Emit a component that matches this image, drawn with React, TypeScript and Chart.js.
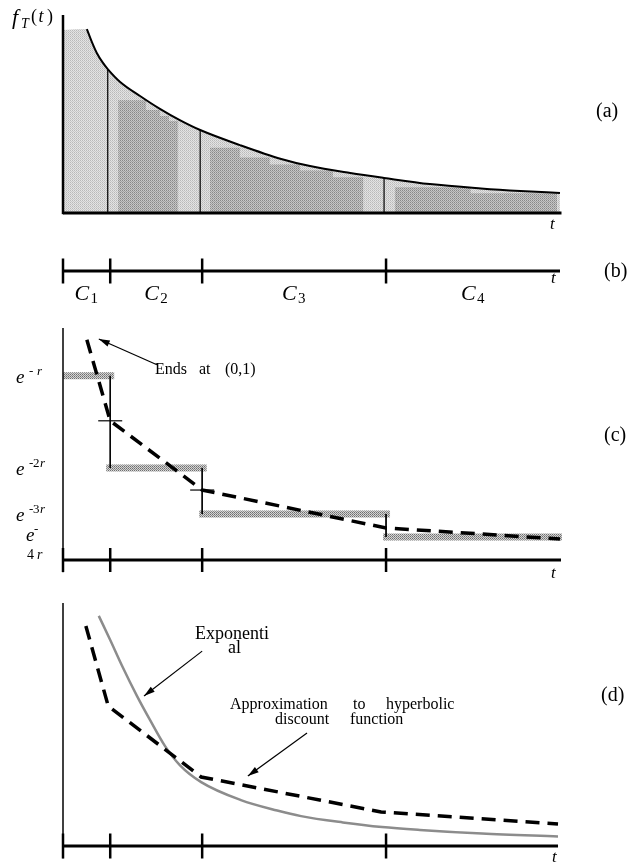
import React, { useEffect, useRef } from 'react';
import { Chart, registerables } from 'chart.js';

Chart.register(...registerables);

const W = 629;
const H = 864;
const SERIF = '"Liberation Serif", "Times New Roman", "DejaVu Serif", serif';

// ---------- shared time axis ----------
const T_MAX = 100;
const boundaryT = [0, 9.5, 28, 65]; // tick marks: starts of C1..C4
const intervalEndT = [9.5, 28, 65, 100];
const intervalNames = ['1', '2', '3', '4'];

// ---------- panel (a): density f_T(t) ----------
const densityT = [4.8, 5.8, 6.8, 7.9, 9.0, 11.5, 15.5, 19.5, 23.5, 27.6, 35.6, 43.9, 49.7, 57.8, 64.6, 73.8, 84.1, 92.0, 100];
const densityV = [92.9, 86.4, 80.8, 76.3, 72.7, 66.2, 59.1, 52.6, 46.9, 41.9, 34.3, 27.3, 23.7, 20.2, 17.7, 14.6, 12.4, 11.1, 10.1];
const shadeLeftTop = 92.4;
const dividerT = [9.0, 27.6, 64.6];
const dividerTop = [72.7, 41.9, 17.7];
const darkStepT = [11.1, 16.7, 19.5, 21.3, 23.1, 29.6, 35.6, 41.6, 47.7, 54.3, 60.4, 66.8, 82.0, 99.4];
const darkStepV = [57, 52, 49, 46.5, 0, 33, 28, 24.5, 21.5, 18, 0, 13, 10, 0];

// ---------- panel (c): step approximation ----------
const stepLevel = [0.5, 0.25, 0.125, 0.0625];
const stepStartT = [0, 8.7, 27.4, 64.4];
const stepEndT = [10.3, 28.9, 65.8, 100.4];
const stepSup = ['- r', '-2r', '-3r', '-'];
const approxT = [4.8, 9.5, 28.0, 65.0, 100];
const approxV = [0.598, 0.378, 0.19, 0.087, 0.057];
const crossT = [9.5, 28];
const crossV = [0.378, 0.19];
const endsArrowT = [18.9, 7.2];
const endsArrowV = [0.53, 0.6];

// ---------- panel (d): exponential vs hyperbolic approximation ----------
const expT = [7.2, 9.5, 11.9, 14.9, 17.5, 20.5, 23.5, 27.8, 35.8, 43.1, 47.9, 56.3, 64.2, 71.8, 84.3, 99.6];
const expV = [0.947, 0.848, 0.741, 0.617, 0.519, 0.412, 0.333, 0.263, 0.189, 0.146, 0.123, 0.097, 0.078, 0.066, 0.051, 0.039];
const hypT = [4.6, 9.1, 27.8, 64.0, 99.6];
const hypV = [0.905, 0.576, 0.284, 0.14, 0.091];
const expArrowT = [28.0, 16.3];
const expArrowV = [0.802, 0.617];
const hypArrowT = [49.1, 37.2];
const hypArrowV = [0.465, 0.288];

// ---------- helpers ----------
const it = (s: number) => `italic ${s}px ${SERIF}`;
const up = (s: number) => `${s}px ${SERIF}`;
const pts = (xs: number[], ys: number[]) => xs.map((x, i) => ({ x, y: ys[i] }));
const seg = (x1: number, y1: number, x2: number, y2: number) => [
  { x: x1, y: y1 },
  { x: x2, y: y2 },
];

const line = (data: any[], o: any = {}) => ({
  data,
  showLine: true,
  pointRadius: 0,
  borderColor: '#000',
  borderWidth: 1,
  fill: false,
  clip: false,
  order: 2,
  ...o,
});

const marks = (data: any[], o: any = {}) => ({
  data,
  showLine: false,
  pointStyle: 'line',
  pointRotation: 90,
  pointRadius: 12.5,
  pointBorderWidth: 2.5,
  pointBorderColor: '#000',
  pointBackgroundColor: '#000',
  clip: false,
  order: 0,
  ...o,
});

function makePattern(ctx: CanvasRenderingContext2D, c: string[]) {
  const cv = document.createElement('canvas');
  cv.width = 2;
  cv.height = 2;
  const g = cv.getContext('2d')!;
  g.fillStyle = c[0];
  g.fillRect(0, 0, 1, 1);
  g.fillStyle = c[1];
  g.fillRect(1, 0, 1, 1);
  g.fillStyle = c[2];
  g.fillRect(0, 1, 1, 1);
  g.fillStyle = c[3];
  g.fillRect(1, 1, 1, 1);
  return ctx.createPattern(cv, 'repeat')!;
}

type TextItem = [string, string, number, number];

function drawItems(ctx: CanvasRenderingContext2D, items: TextItem[]) {
  items.forEach(([s, f, x, y]) => {
    ctx.font = f;
    ctx.fillText(s, x, y);
  });
}

const decor = (drawTexts: (ctx: CanvasRenderingContext2D, chart: any) => void) => ({
  id: 'decor',
  afterDatasetsDraw(chart: any) {
    const ctx: CanvasRenderingContext2D = chart.ctx;
    ctx.save();
    ctx.fillStyle = '#000';
    chart.data.datasets.forEach((ds: any, i: number) => {
      if (!ds.arrow) return;
      const els = chart.getDatasetMeta(i).data;
      const a = els[0];
      const b = els[els.length - 1];
      const ang = Math.atan2(b.y - a.y, b.x - a.x);
      const L = 11;
      const w = 3.2;
      const bx = b.x - L * Math.cos(ang);
      const by = b.y - L * Math.sin(ang);
      ctx.beginPath();
      ctx.moveTo(b.x, b.y);
      ctx.lineTo(bx + w * Math.sin(ang), by - w * Math.cos(ang));
      ctx.lineTo(bx - w * Math.sin(ang), by + w * Math.cos(ang));
      ctx.closePath();
      ctx.fill();
    });
    ctx.textBaseline = 'alphabetic';
    ctx.textAlign = 'left';
    drawTexts(ctx, chart);
    ctx.restore();
  },
});

function baseConfig(datasets: any[], top: number, bottom: number, yMin: number, yMax: number, plugin: any) {
  return {
    type: 'scatter' as const,
    data: { datasets },
    options: {
      responsive: false,
      maintainAspectRatio: false,
      animation: false as const,
      events: [] as any[],
      layout: { padding: { left: 63, right: W - 560, top, bottom: H - bottom } },
      scales: {
        x: { type: 'linear' as const, min: 0, max: T_MAX, display: false },
        y: { type: 'linear' as const, min: yMin, max: yMax, display: false },
      },
      plugins: { legend: { display: false }, tooltip: { enabled: false } },
    },
    plugins: [plugin],
  };
}

// ---------- panel builders ----------
function panelA(ctx: CanvasRenderingContext2D) {
  const light = makePattern(ctx, ['#b9b9b9', '#e6e6e6', '#e0e0e0', '#c8c8c8']);
  const dark = makePattern(ctx, ['#888888', '#c9c9c9', '#c2c2c2', '#a0a0a0']);
  const curve = pts(densityT, densityV);
  const datasets: any[] = [
    line(seg(0, 0, 100.3, 0), { borderWidth: 3, order: 0 }),
    line(seg(0, -0.6, 0, 100), { borderWidth: 2.5, order: 0 }),
    line(curve, { borderWidth: 2, cubicInterpolationMode: 'monotone', order: 1 }),
    ...dividerT.map((t, i) => line(seg(t, 0, t, dividerTop[i]), { borderWidth: 1.2, order: 1 })),
    line(pts(darkStepT, darkStepV), {
      stepped: 'before',
      borderWidth: 0,
      fill: 'origin',
      backgroundColor: dark,
      order: 9,
    }),
    line([{ x: 0, y: shadeLeftTop }, ...curve], {
      borderWidth: 0,
      fill: 'origin',
      backgroundColor: light,
      cubicInterpolationMode: 'monotone',
      order: 10,
    }),
  ];
  const plugin = decor((c) => {
    drawItems(c, [
      ['f', it(22), 12, 24],
      ['T', it(14), 21, 28],
      ['(', up(18), 31, 22],
      ['t', it(18), 38.5, 22],
      [')', up(18), 47, 22],
      ['t', it(17), 550, 229],
      ['(a)', up(20), 596, 117],
    ]);
  });
  return baseConfig(datasets, 15, 213, 0, 100, plugin);
}

function panelB() {
  const datasets: any[] = [
    line(seg(0, 0, 100, 0), { borderWidth: 3 }),
    marks(boundaryT.map((t) => ({ x: t, y: 0 }))),
  ];
  const plugin = decor((c, chart) => {
    const xs = chart.scales.x;
    intervalNames.forEach((n, i) => {
      const mid = xs.getPixelForValue((boundaryT[i] + intervalEndT[i]) / 2);
      drawItems(c, [
        ['C', it(22), mid - 12, 300],
        [n, up(15), mid + 4, 303],
      ]);
    });
    drawItems(c, [
      ['t', it(17), 551, 283],
      ['(b)', up(20), 604, 277],
    ]);
  });
  return baseConfig(datasets, 258, 284, -1, 1, plugin);
}

function panelC(ctx: CanvasRenderingContext2D) {
  const bar = makePattern(ctx, ['#6e6e6e', '#d8d8d8', '#d0d0d0', '#8c8c8c']);
  const datasets: any[] = [
    line(seg(0, 0, 100.2, 0), { borderWidth: 3, order: 0 }),
    line(seg(0, -0.033, 0, 0.63), { borderWidth: 1.5, order: 0 }),
    marks(boundaryT.map((t) => ({ x: t, y: 0 })), { pointRadius: 12 }),
    ...stepLevel.map((v, i) =>
      line(seg(stepStartT[i], v, stepEndT[i], v), { borderWidth: 7, borderColor: bar, order: 5 })
    ),
    ...stepLevel.slice(1).map((v, i) =>
      line(seg(boundaryT[i + 1], stepLevel[i], boundaryT[i + 1], v), { borderWidth: 1, order: 3 })
    ),
    marks(pts(crossT, crossV), { pointRotation: 0, pointRadius: 12, pointBorderWidth: 1.2 }),
    line(pts(approxT, approxV), {
      borderWidth: 3.5,
      borderDash: [14, 8],
      borderCapStyle: 'butt',
      order: 1,
    }),
    line(pts(endsArrowT, endsArrowV), { borderWidth: 1.2, arrow: true, order: 1 }),
  ];
  const plugin = decor((c, chart) => {
    const ys = chart.scales.y;
    stepLevel.forEach((v, i) => {
      const y = ys.getPixelForValue(v);
      if (i < 3) {
        const sup = stepSup[i];
        const items: TextItem[] = [['e', it(19), 16, y + 7], ['-', up(13), 29, y - 1]];
        if (sup.length === 3 && sup[1] === ' ') {
          items.push(['r', it(13), 37, y - 1]);
        } else {
          items.push([sup[1], up(13), 33, y - 1]);
          items.push([sup[2], it(13), 40, y - 1]);
        }
        drawItems(c, items);
      } else {
        drawItems(c, [
          ['e', it(19), 26, y + 4],
          [stepSup[i], up(13), 34, y - 4],
          ['4', up(14), 27, y + 22],
          ['r', it(14), 37, y + 22],
        ]);
      }
    });
    drawItems(c, [
      ['Ends', up(16), 155, 374],
      ['at', up(16), 199, 374],
      ['(0,1)', up(16), 225, 374],
      ['t', it(17), 551, 578],
      ['(c)', up(20), 604, 441],
    ]);
  });
  return baseConfig(datasets, 328, 560, 0, 0.63, plugin);
}

function panelD() {
  const datasets: any[] = [
    line(seg(0, 0, 99.6, 0), { borderWidth: 3, order: 0 }),
    line(seg(0, -0.05, 0, 1), { borderWidth: 1.5, order: 0 }),
    marks(boundaryT.map((t) => ({ x: t, y: 0 }))),
    line(pts(expT, expV), {
      borderWidth: 2.5,
      borderColor: '#8c8c8c',
      cubicInterpolationMode: 'monotone',
      order: 2,
    }),
    line(pts(hypT, hypV), {
      borderWidth: 3.5,
      borderDash: [14, 8],
      borderCapStyle: 'butt',
      order: 1,
    }),
    line(pts(expArrowT, expArrowV), { borderWidth: 1.2, arrow: true, order: 1 }),
    line(pts(hypArrowT, hypArrowV), { borderWidth: 1.2, arrow: true, order: 1 }),
  ];
  const plugin = decor((c) => {
    drawItems(c, [
      ['Exponenti', up(18), 195, 639],
      ['al', up(18), 228, 653],
      ['Approximation', up(16), 230, 709],
      ['to', up(16), 353, 709],
      ['hyperbolic', up(16), 386, 709],
      ['discount', up(16), 275, 724],
      ['function', up(16), 350, 724],
      ['t', it(17), 552, 862],
      ['(d)', up(20), 601, 701],
    ]);
  });
  return baseConfig(datasets, 603, 846, 0, 1, plugin);
}

export default function App() {
  const r1 = useRef<HTMLCanvasElement>(null);
  const r2 = useRef<HTMLCanvasElement>(null);
  const r3 = useRef<HTMLCanvasElement>(null);
  const r4 = useRef<HTMLCanvasElement>(null);

  useEffect(() => {
    const c1 = r1.current!;
    const c2 = r2.current!;
    const c3 = r3.current!;
    const c4 = r4.current!;
    const charts = [
      new Chart(c1, panelA(c1.getContext('2d')!) as any),
      new Chart(c2, panelB() as any),
      new Chart(c3, panelC(c3.getContext('2d')!) as any),
      new Chart(c4, panelD() as any),
    ];
    return () => charts.forEach((ch) => ch.destroy());
  }, []);

  const cs: React.CSSProperties = { position: 'absolute', left: 0, top: 0, width: W, height: H };
  return (
    <div style={{ position: 'fixed', left: 0, top: 0, width: W, height: H, background: '#fff' }}>
      <canvas ref={r1} width={W} height={H} style={cs} />
      <canvas ref={r2} width={W} height={H} style={cs} />
      <canvas ref={r3} width={W} height={H} style={cs} />
      <canvas ref={r4} width={W} height={H} style={cs} />
    </div>
  );
}
